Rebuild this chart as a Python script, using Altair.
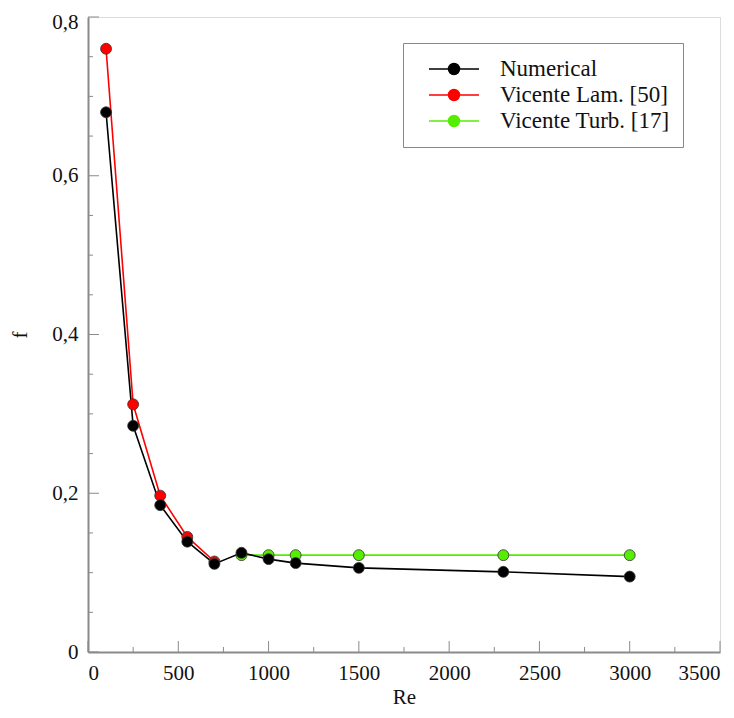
import altair as alt
import pandas as pd

# ---- data ----
re_numerical = [100, 250, 400, 550, 700, 850, 1000, 1150, 1500, 2300, 3000]
f_numerical = [0.680, 0.285, 0.185, 0.139, 0.111, 0.125, 0.117, 0.112, 0.106, 0.101, 0.095]

re_lam = [100, 250, 400, 550, 700]
f_lam = [0.760, 0.312, 0.197, 0.145, 0.114]

re_turb = [850, 1000, 1150, 1500, 2300, 3000]
f_turb = [0.122, 0.122, 0.122, 0.122, 0.122, 0.122]

series_names = ["Numerical", "Vicente Lam. [50]", "Vicente Turb. [17]"]
series_colors = ["#000000", "#ff0000", "#55ee00"]

x_major = [0, 500, 1000, 1500, 2000, 2500, 3000, 3500]
x_minor = [250, 750, 1250, 1750, 2250, 2750, 3250]
y_major = [0, 0.2, 0.4, 0.6, 0.8]
y_minor = [0.05, 0.1, 0.15, 0.25, 0.3, 0.35, 0.45, 0.5, 0.55, 0.65, 0.7, 0.75]

# draw order: turbulent, laminar, numerical (numerical on top)
rows = []
for x, y in zip(re_turb, f_turb):
    rows.append({"Re": x, "f": y, "series": series_names[2], "ord": 0})
for x, y in zip(re_lam, f_lam):
    rows.append({"Re": x, "f": y, "series": series_names[1], "ord": 1})
for x, y in zip(re_numerical, f_numerical):
    rows.append({"Re": x, "f": y, "series": series_names[0], "ord": 2})
df = pd.DataFrame(rows)

W, H = 632, 635
FONT = "Liberation Serif"
AX = "#8a8a8a"

xscale = alt.Scale(domain=[0, 3500], nice=False, zero=False)
yscale = alt.Scale(domain=[0, 0.8], nice=False, zero=False)

x_axis = alt.Axis(
    title="Re",
    values=x_major,
    format="d",
    ticks=False,
    grid=False,
    labelFont=FONT,
    labelFontSize=21,
    labelColor="#111111",
    labelPadding=10,
    titleFont=FONT,
    titleFontSize=21,
    titleFontWeight="normal",
    titleColor="#111111",
    titlePadding=3,
    domainColor=AX,
    domainWidth=2,
)
y_axis = alt.Axis(
    title="f",
    values=y_major,
    labelExpr="datum.value == 0 ? '0' : replace(format(datum.value, '.1f'), '.', ',')",
    labelOffset={"condition": {"test": "datum.value > 0.79", "value": 5}, "value": 0},
    ticks=False,
    grid=False,
    labelFont=FONT,
    labelFontSize=21,
    labelColor="#111111",
    labelPadding=10,
    titleFont=FONT,
    titleFontSize=21,
    titleFontWeight="normal",
    titleColor="#111111",
    titlePadding=21,
    domainColor=AX,
    domainWidth=2,
)

color = alt.Color(
    "series:N",
    scale=alt.Scale(domain=series_names, range=series_colors),
    sort=series_names,
    legend=alt.Legend(
        title=None,
        orient="none",
        legendX=315,
        legendY=26,
        symbolType="M-1,0H1M-0.22,0A0.22,0.22 0 1,1 0.22,0A0.22,0.22 0 1,1 -0.22,0Z",
        symbolSize=2500,
        symbolStrokeWidth=1.5,
        symbolOffset=12,
        clipHeight=26,
        rowPadding=0,
        labelOffset=20,
        labelLimit=400,
        labelFont=FONT,
        labelFontSize=23,
        labelColor="#111111",
        padding=13,
        strokeColor="#888888",
        fillColor="white",
    ),
)

lines = alt.Chart(df).mark_line(strokeWidth=1.6).encode(
    x=alt.X("Re:Q", scale=xscale, axis=x_axis),
    y=alt.Y("f:Q", scale=yscale, axis=y_axis),
    color=color,
    order="ord:Q",
)
points = alt.Chart(df).mark_point(
    filled=True, size=120, stroke="#333333", strokeWidth=0.8, opacity=1
).encode(
    x=alt.X("Re:Q", scale=xscale, axis=x_axis),
    y=alt.Y("f:Q", scale=yscale, axis=y_axis),
    color=color,
    order="ord:Q",
)

ytick_major = alt.Chart(pd.DataFrame({"v": y_major})).mark_rule(color=AX, strokeWidth=1).encode(
    y=alt.Y("v:Q", scale=yscale, axis=y_axis), x=alt.value(0), x2=alt.value(11)
)
ytick_minor = alt.Chart(pd.DataFrame({"v": y_minor})).mark_rule(color=AX, strokeWidth=1).encode(
    y=alt.Y("v:Q", scale=yscale, axis=y_axis), x=alt.value(0), x2=alt.value(5)
)
xtick_major = alt.Chart(pd.DataFrame({"v": x_major})).mark_rule(color=AX, strokeWidth=1).encode(
    x=alt.X("v:Q", scale=xscale, axis=x_axis), y=alt.value(H), y2=alt.value(H - 11)
)
xtick_minor = alt.Chart(pd.DataFrame({"v": x_minor})).mark_rule(color=AX, strokeWidth=1).encode(
    x=alt.X("v:Q", scale=xscale, axis=x_axis), y=alt.value(H), y2=alt.value(H - 5)
)

chart = (
    alt.layer(lines, points, ytick_minor, ytick_major, xtick_minor, xtick_major)
    .properties(
        width=W,
        height=H,
        autosize=alt.AutoSizeParams(type="none"),
        padding={"left": 80, "top": 9, "right": 6, "bottom": 58},
    )
    .configure_view(stroke="#d0d0d0", strokeWidth=1)
    .configure(background="white")
)

chart.save("out.html", embed_options={"renderer": "svg", "actions": False})
